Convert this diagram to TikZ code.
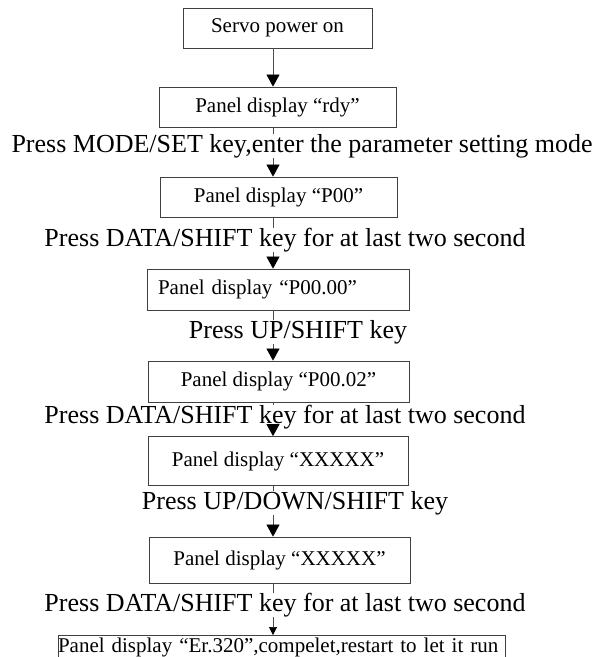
\documentclass[tikz,border=0pt]{standalone}
\usepackage{fontspec}
\setmainfont{Liberation Serif}
\usetikzlibrary{arrows.meta}

\begin{document}
\begin{tikzpicture}[x=1pt,y=-1pt,
  stepbox/.style={draw=black!75, line width=0.8pt, inner sep=0pt,
    font=\fontsize{21}{24}\selectfont},
  keytext/.style={inner sep=0pt, font=\fontsize{26}{30}\selectfont},
  link/.style={draw=black!70, line width=0.7pt},
  flow/.style={link, -{Triangle[width=13pt,length=12pt,color=black]}}]
\useasboundingbox (0,0) rectangle (599,657);
\clip (0,0) rectangle (599,657);

% Boxes
\node[stepbox, minimum width=189, minimum height=40] (power) at (277.5,28) {Servo power on};
\node[stepbox, minimum width=237, minimum height=40] (rdy) at (277.5,107) {Panel display “rdy”};
\node[stepbox, minimum width=237, minimum height=40] (p00) at (278.5,197) {Panel display “P00”};
\node[stepbox, text width=240, inner xsep=11, align=left, minimum height=41] (p0000) at (278,289.5) {Panel display “P00.00”};
\node[stepbox, minimum width=261, minimum height=41] (p0002) at (278.5,381.5) {Panel display “P00.02”};
\node[stepbox, minimum width=260, minimum height=49] (val1) at (278,461) {Panel display “XXXXX”};
\node[stepbox, minimum width=261, minimum height=46] (val2) at (279.5,560) {Panel display “XXXXX”};
\node[stepbox, anchor=north, text width=447, align=left, text depth=22pt, inner ysep=3] (done) at (281.5,635) {Panel display “Er.320”,compelet,restart to let it run};

% Key presses
\node[keytext] (modeset) at (302,146) {Press MODE/SET key,enter the parameter setting mode};
\node[keytext] (hold1) at (285,240) {Press DATA/SHIFT key for at last two second};
\node[keytext] (upshift) at (298,332) {Press UP/SHIFT key};
\node[keytext] (hold2) at (285,417) {Press DATA/SHIFT key for at last two second};
\node[keytext] (updown) at (295,503) {Press UP/DOWN/SHIFT key};
\node[keytext] (hold3) at (285,605) {Press DATA/SHIFT key for at last two second};

% Flow
\coordinate (axis) at (273,0);
\draw[flow] (power.south -| axis) -- (rdy.north -| axis);
\draw[link] (rdy.south -| axis) -- (modeset.north -| axis);
\draw[flow] (modeset.south -| axis) -- (p00.north -| axis);
\draw[link] (p00.south -| axis) -- (hold1.north -| axis);
\draw[flow] (hold1.south -| axis) -- (p0000.north -| axis);
\draw[link] (p0000.south -| axis) -- (upshift.north -| axis);
\draw[flow] (upshift.south -| axis) -- (p0002.north -| axis);
\draw[link] (p0002.south -| axis) -- (hold2.north -| axis);
\draw[flow] (hold2.south -| axis) -- (val1.north -| axis);
\draw[link] (val1.south -| axis) -- (updown.north -| axis);
\draw[flow] (updown.south -| axis) -- (val2.north -| axis);
\draw[link] (val2.south -| axis) -- (hold3.north -| axis);
\draw[link, -{Triangle[width=8pt,length=8pt,color=black]}] (hold3.south -| axis) -- (done.north -| axis);
\end{tikzpicture}
\end{document}
